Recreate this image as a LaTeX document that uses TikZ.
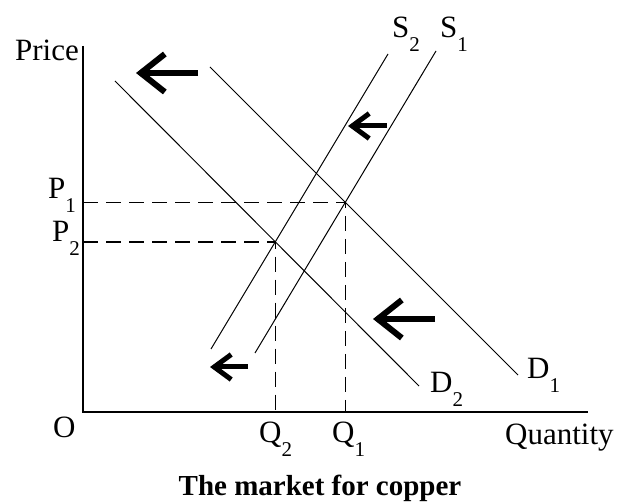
\documentclass[tikz,border=0pt]{standalone}
\usepackage{fontspec}
\setmainfont{Liberation Serif}
\usetikzlibrary{positioning,intersections,arrows.meta}
\newcommand{\sublab}[2]{#1\raisebox{-14pt}{\fontsize{21}{21}\selectfont #2}}

\begin{document}
\begin{tikzpicture}[
    x=1pt, y=-1pt,
    axisline/.style={draw, line width=2pt},
    schedule/.style={draw, line width=1pt},
    guide/.style={draw, line width=1.5pt, dash pattern=on 15pt off 8pt},
    bigmove/.style={draw, line width=6pt, -{Straight Barb[length=24pt,width=38pt,line width=6pt]}},
    smallmove/.style={draw, line width=5pt, -{Straight Barb[length=17pt,width=25pt,line width=5pt]}},
    lab/.style={inner sep=0pt, anchor=base west, font=\fontsize{31}{36}\selectfont}
]
\useasboundingbox (0,0) rectangle (621,502);

% Axes
\coordinate (o) at (83,412);
\coordinate (ytop) at (83,46);
\coordinate (xend) at (588,412);
\draw[axisline] (ytop) -- (o) -- (xend);

% Demand and supply
\coordinate (d1a) at (210,67);
\coordinate (d1b) at (518,375);
\coordinate (d2a) at (115,81);
\coordinate (d2b) at (419,386);
\coordinate (s1a) at (436,51);
\coordinate (s1b) at (255,353);
\coordinate (s2a) at (388,54);
\coordinate (s2b) at (211,349);

\draw[schedule, name path=d1] (d1a) -- (d1b);
\draw[schedule, name path=d2] (d2a) -- (d2b);
\draw[schedule, name path=s1] (s1a) -- (s1b);
\draw[schedule, name path=s2] (s2a) -- (s2b);

\path[name intersections={of=d1 and s1, by=e1}];
\path[name intersections={of=d2 and s2, by=e2}];

% Equilibria
\draw[guide] (o |- e1) -- (e1) -- (e1 |- o);
\draw[guide] (o |- e2) -- (e2) -- (e2 |- o);

% Shift arrows
\coordinate (m1t) at (198,73);
\coordinate (m1h) at (136,73);
\coordinate (m2t) at (387,126);
\coordinate (m2h) at (348,126);
\coordinate (m3t) at (435,319);
\coordinate (m3h) at (373,319);
\coordinate (m4t) at (248,367);
\coordinate (m4h) at (210,367);

\draw[bigmove] (m1t) -- (m1h);
\draw[smallmove] (m2t) -- (m2h);
\draw[bigmove] (m3t) -- (m3h);
\draw[smallmove] (m4t) -- (m4h);

% Labels
\node[lab, anchor=base east] (price) at (79,61) {Price};
\node[lab] (p1) at (48,199) {\sublab{P}{1}};
\node[lab] (p2) at (52,242) {\sublab{P}{2}};
\node[lab] (orig) at (53,437) {O};
\node[lab] (q2) at (259,442) {\sublab{Q}{2}};
\node[lab] (q1) at (332,442) {\sublab{Q}{1}};
\node[lab] (qty) at (505,444) {Quantity};
\node[lab] (s2lab) at (392,38) {\sublab{S}{2}};
\node[lab] (s1lab) at (440,38) {\sublab{S}{1}};
\node[lab] (d1lab) at (527,378) {\sublab{D}{1}};
\node[lab] (d2lab) at (430,392) {\sublab{D}{2}};
\node[inner sep=0pt, anchor=base, font=\fontsize{29}{34}\selectfont\bfseries] (caption) at (320,495) {The market for copper};
\end{tikzpicture}
\end{document}
